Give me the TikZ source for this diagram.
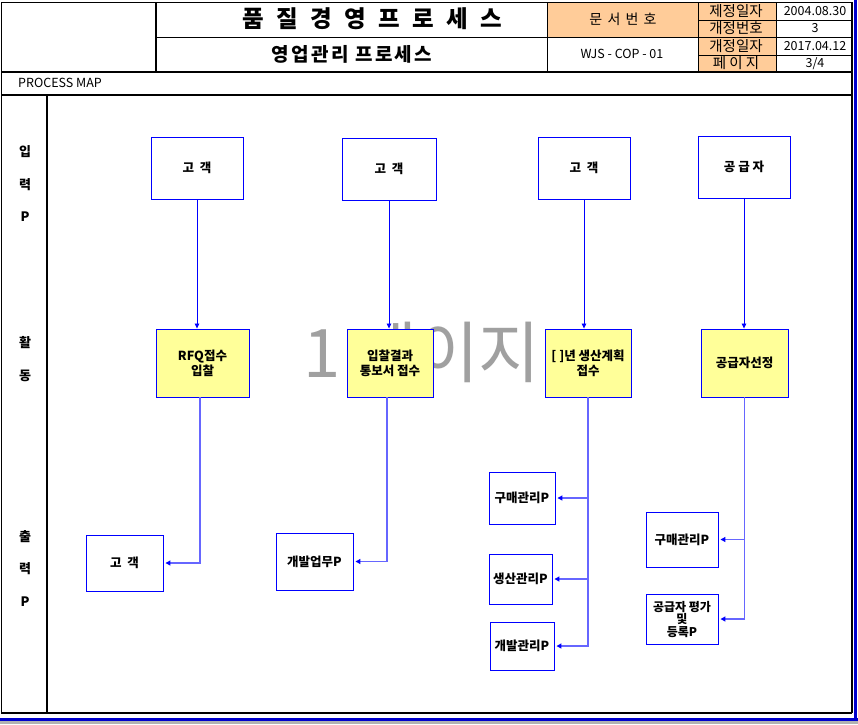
\documentclass[tikz,border=0pt]{standalone}
\usepackage{fontspec}
\setmainfont{Noto Sans CJK KR}
\usetikzlibrary{arrows.meta}
\definecolor{hdrorange}{RGB}{255,204,153}
\definecolor{actyellow}{RGB}{255,255,153}
\definecolor{wmgray}{RGB}{160,160,160}
\tikzset{
  ibox/.style={draw=blue, line width=0.9pt, fill=white, inner sep=1pt, align=center, font=\bfseries\fontsize{12.5}{15}\selectfont},
  abox/.style={ibox, fill=actyellow},
  inarrow/.style={draw=blue, line width=0.8pt, -{Triangle[length=5pt,width=4.5pt]}},
  outarrow/.style={draw=blue!60, line width=1.3pt, -{Triangle[length=5pt,width=5pt,fill=blue,color=blue]}, shorten >=2pt},
  thickline/.style={line width=1.6pt},
  thinline/.style={line width=0.7pt},
  hcell/.style={inner sep=0pt, font=\fontsize{14.5}{15}\selectfont},
  vcell/.style={inner sep=0pt, font=\fontsize{12.5}{13}\selectfont},
  sidelabel/.style={inner sep=0pt, font=\bfseries\fontsize{13}{14}\selectfont}
}
\begin{document}
\begin{tikzpicture}[x=1pt,y=-1pt]
\useasboundingbox (0,0) rectangle (858,724);
\fill[white] (0,0) rectangle (858,724);
\fill[gray!60] (0,721) rectangle (858,724);
% header fills
\fill[hdrorange] (547,2) rectangle (698,37);
\fill[hdrorange] (698,2) rectangle (776,72);
% header lines
\draw[thinline] (1,2) -- (852,2);
\draw[thinline] (1,2) -- (1,713);
\draw[thinline] (156,37) -- (852,37);
\draw[thinline] (698,20) -- (852,20);
\draw[thinline] (698,55) -- (852,55);
\draw[thinline] (547,2) -- (547,72);
\draw[line width=1pt] (698,2) -- (698,72);
\draw[thinline] (776,2) -- (776,72);
\draw[thickline] (156,2) -- (156,72);
\draw[thickline] (1,72) -- (852,72);
\draw[thickline] (1,95) -- (852,95);
\draw[thickline] (47,95) -- (47,713);
\draw[thickline] (1,713) -- (852,713);
\draw[thickline] (852,2) -- (852,713);
\draw[blue!80!black, line width=2.5pt] (855.5,0) -- (855.5,721);
\draw[blue!80!black, line width=2.5pt] (0,719.5) -- (858,719.5);
% header texts
\node[inner sep=0pt, font=\bfseries\fontsize{23.5}{25}\selectfont\addfontfeature{LetterSpace=30}] (title) at (372,19) {품 질 경 영 프 로 세 스};
\node[inner sep=0pt, font=\bfseries\fontsize{19}{21}\selectfont\addfontfeature{LetterSpace=12}] (subtitle) at (352,54) {영업관리 프로세스};
\node[inner sep=0pt, font=\fontsize{14}{15}\selectfont\addfontfeature{LetterSpace=15}] (docno) at (623,19) {문 서 번 호};
\node[inner sep=0pt, font=\fontsize{12.5}{14}\selectfont] (docid) at (622,54) {WJS - COP - 01};
\node[hcell] (l1) at (736,11) {제정일자};
\node[hcell] (l2) at (736,28.5) {개정번호};
\node[hcell] (l3) at (736,46) {개정일자};
\node[hcell] (l4) at (736,63.5) {페 이 지};
\node[vcell] (v1) at (815,11) {2004.08.30};
\node[vcell] (v2) at (815,28.5) {3};
\node[vcell] (v3) at (815,46) {2017.04.12};
\node[vcell] (v4) at (815,63.5) {3/4};
\node[anchor=west, inner sep=0pt, font=\fontsize{12.5}{13}\selectfont] (pmap) at (18,82.5) {PROCESS MAP};
% side labels
\node[sidelabel] (s1) at (25,152) {입};
\node[sidelabel] (s2) at (25,185) {력};
\node[sidelabel] (s3) at (25,217) {P};
\node[sidelabel] (s4) at (25,343) {활};
\node[sidelabel] (s5) at (25,376) {동};
\node[sidelabel] (s6) at (25,537) {출};
\node[sidelabel] (s7) at (25,569) {력};
\node[sidelabel] (s8) at (25,602) {P};
% watermark
\node[inner sep=0pt, text=wmgray, font=\fontsize{67}{70}\selectfont] (wm) at (422,352) {1 페이지};
% input boxes
\node[ibox, minimum width=92pt, minimum height=62pt] (i1) at (197,168) {고\hspace{0.45em}객};
\node[ibox, minimum width=94pt, minimum height=62pt] (i2) at (389,169) {고\hspace{0.45em}객};
\node[ibox, minimum width=92pt, minimum height=62pt] (i3) at (584,168) {고\hspace{0.45em}객};
\node[ibox, minimum width=92pt, minimum height=62pt] (i4) at (744,167) {공 급 자};
% activity boxes
\node[abox, minimum width=93pt, minimum height=68pt] (a1) at (202.5,363) {RFQ접수\\입찰};
\node[abox, minimum width=86pt, minimum height=68pt] (a2) at (390,363) {입찰결과\\통보서 접수};
\node[abox, minimum width=86pt, minimum height=68pt] (a3) at (588,363) {[ ]년 생산계획\\접수};
\node[abox, minimum width=87pt, minimum height=68pt] (a4) at (744.5,363) {공급자선정};
% output boxes
\node[ibox, minimum width=77pt, minimum height=56pt] (o1) at (124.5,563) {고\hspace{0.45em}객};
\node[ibox, minimum width=77pt, minimum height=57pt] (o2) at (314.5,561.5) {개발업무P};
\node[ibox, minimum width=66pt, minimum height=52pt] (o3) at (522,498) {구매관리P};
\node[ibox, minimum width=63pt, minimum height=50pt] (o4) at (520.5,579) {생산관리P};
\node[ibox, minimum width=64pt, minimum height=48pt] (o5) at (522,646) {개발관리P};
\node[ibox, minimum width=72pt, minimum height=55pt] (o6) at (682,539.5) {구매관리P};
\node[ibox, minimum width=72pt, minimum height=50pt, font=\bfseries\fontsize{12}{12.5}\selectfont] (o7) at (682,619) {공급자 평가\\및\\등록P};
% input arrows
\draw[inarrow] (i1.south) -- (i1.south |- a1.north);
\draw[inarrow] (i2.south) -- (i2.south |- a2.north);
\draw[inarrow] (i3.south) -- (i3.south |- a3.north);
\draw[inarrow] (i4.south) -- (i4.south |- a4.north);
% output arrows
\draw[outarrow] ([xshift=-2.5pt]a1.south) |- (o1.east);
\draw[outarrow] ([xshift=-3pt]a2.south) |- (o2.east);
\draw[outarrow] (a3.south) |- (o3.east);
\draw[outarrow] (a3.south) |- (o4.east);
\draw[outarrow] (a3.south) |- (o5.east);
\draw[outarrow] (a4.south) |- (o6.east);
\draw[outarrow] (a4.south) |- (o7.east);
\end{tikzpicture}
\end{document}
